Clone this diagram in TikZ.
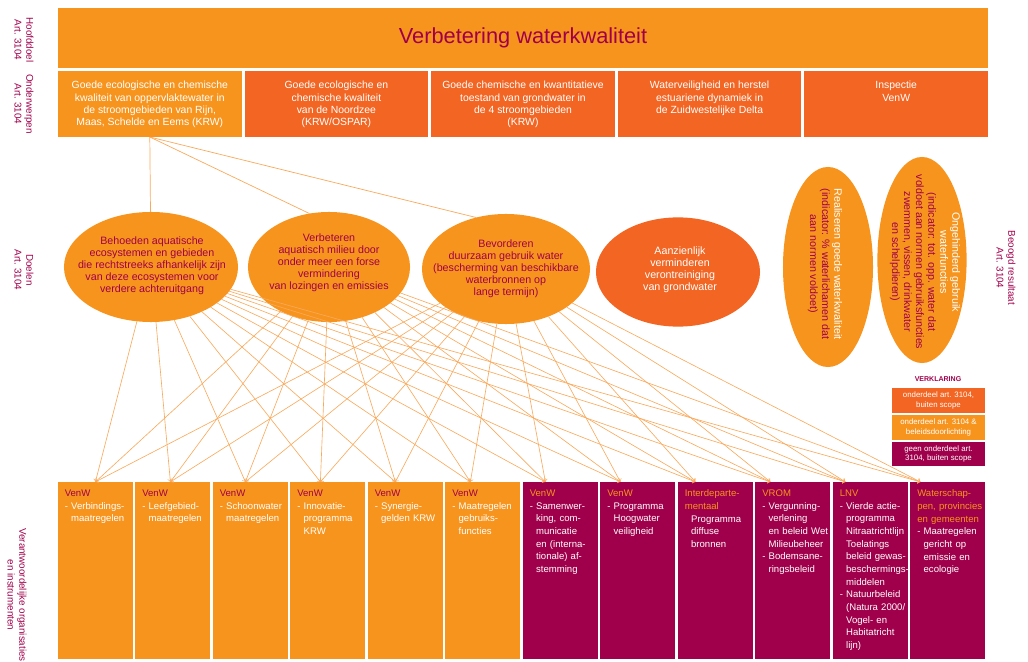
\documentclass[tikz,border=0pt]{standalone}
\usepackage{fontspec}
\setmainfont{Liberation Sans}
\usetikzlibrary{shapes.geometric}
\definecolor{lorange}{HTML}{F7941D}
\definecolor{dorange}{HTML}{F26522}
\definecolor{wine}{HTML}{A0004B}
\definecolor{linkc}{HTML}{F9A95C}
\newcommand{\indt}{\hphantom{-\ }}

\begin{document}
\begin{tikzpicture}[x=0.025cm, y=-0.025cm,
	every node/.style={inner sep=0pt, outer sep=0pt},
	onderwerp/.style={minimum width=4.59cm, minimum height=1.65cm},
	onderwerptekst/.style={anchor=north, text=white, align=center,
		font=\fontsize{7.4}{8.6}\selectfont},
	doel/.style={ellipse, fill=lorange},
	doeltekst/.style={text=wine, align=center,
		font=\fontsize{7.6}{8.6}\selectfont},
	instrument/.style={minimum width=1.87cm, minimum height=4.43cm},
	instrumenttekst/.style={anchor=north west, text=white, text width=1.95cm,
		align=left, font=\fontsize{6.8}{9}\selectfont},
	legenda/.style={minimum width=2.33cm, minimum height=0.62cm, text=white,
		align=center, font=\fontsize{5.6}{7}\selectfont},
	zijlabel/.style={rotate=-90, text=wine, align=center,
		font=\fontsize{7}{8.4}\selectfont},
	lijn/.style={draw=linkc, line width=0.5pt},
	pijl/.style={->, draw=linkc, line width=0.45pt},
]
\useasboundingbox (0,0) rectangle (1028,662);

\node[fill=lorange, minimum width=23.25cm, minimum height=1.5cm, text=wine,
	font=\fontsize{15.5}{18}\selectfont] (hoofddoel) at (523,38)
	{Verbetering waterkwaliteit};

\foreach \i/\kleur/\tekst in {
	1/lorange/{Goede ecologische en chemische\\kwaliteit van oppervlaktewater in\\de stroomgebieden van Rijn,\\Maas, Schelde en Eems (KRW)},
	2/dorange/{Goede ecologische en\\chemische kwaliteit\\van de Noordzee\\(KRW/OSPAR)},
	3/dorange/{Goede chemische en kwantitatieve\\toestand van grondwater in\\de 4 stroomgebieden\\(KRW)},
	4/dorange/{Waterveiligheid en herstel\\estuariene dynamiek in\\de Zuidwestelijke Delta},
	5/dorange/{Inspectie\\VenW}}
{
	\node[onderwerp, fill=\kleur] (t\i) at ({149.8+186.6*(\i-1)},104) {};
	\node[onderwerptekst] (tt\i) at ([yshift=-0.26cm]t\i.north) {\tekst};
}

% doelen
\node[doel, minimum width=4.35cm, minimum height=2.75cm] (e1) at (151,267) {};
\node[doeltekst] (et1) at (152,266) {Behoeden aquatische\\ecosystemen en gebieden\\die rechtstreeks afhankelijk zijn\\van deze ecosystemen voor\\verdere achteruitgang};
\node[doel, minimum width=4.05cm, minimum height=2.75cm] (e2) at (329,267) {};
\node[doeltekst] (et2) at (329,263) {Verbeteren\\aquatisch milieu door\\onder meer een forse\\vermindering\\van lozingen en emissies};
\node[doel, minimum width=4.2cm, minimum height=2.75cm] (e3) at (506,269) {};
\node[doeltekst] (et3) at (506,269) {Bevorderen\\duurzaam gebruik water\\(bescherming van beschikbare\\waterbronnen op\\lange termijn)};
\node[doel, fill=dorange, minimum width=4.1cm, minimum height=2.73cm] (e4) at (678,272) {};
\node[doeltekst, text=white] (et4) at (680,270) {Aanzienlijk\\verminderen\\verontreiniging\\van grondwater};

\node[doel, minimum width=2.25cm, minimum height=5cm] (e5) at (828,267) {};
\node[doeltekst, rotate=-90] (et5) at (825,264) {\textcolor{white}{Realiseren goede waterkwaliteit}\\(indicator: \% waterlichamen dat\\aan normen voldoet)};
\node[doel, minimum width=2.23cm, minimum height=5.15cm] (e6) at (922,260) {};
\node[doeltekst, rotate=-90] (et6) at (925,262) {\textcolor{white}{Ongehinderd gebruik}\\\textcolor{white}{waterfuncties}\\(indicator: tot. opp. water dat\\voldoet aan normen gebruiksfuncties\\zwemmen, vissen, drinkwater\\en schelpdieren)};

\coordinate (hub) at (t1.south);
\draw[lijn] (hub) -- (e1);
\draw[lijn] (hub) -- (e2.110);
\draw[lijn] (hub) -- (e3.120);

% verklaring
\node[text=wine, font=\bfseries\fontsize{5}{6}\selectfont] (verklaring) at (938,379) {VERKLARING};
\node[legenda, fill=dorange] (leg1) at (938.5,400.5) {onderdeel art. 3104,\\buiten scope};
\node[legenda, fill=lorange] (leg2) at (938.5,427.5) {onderdeel art. 3104 \&\\beleidsdoorlichting};
\node[legenda, fill=wine] (leg3) at (938.5,454) {geen onderdeel art.\\3104, buiten scope};

\foreach \i/\kleur/\kopkleur/\kop/\tekst in {
	1/lorange/wine/VenW/{- Verbindings-\\\indt maatregelen},
	2/lorange/wine/VenW/{- Leefgebied-\\\indt maatregelen},
	3/lorange/wine/VenW/{- Schoonwater\\\indt maatregelen},
	4/lorange/wine/VenW/{- Innovatie-\\\indt programma\\\indt KRW},
	5/lorange/wine/VenW/{- Synergie-\\\indt gelden KRW},
	6/lorange/wine/VenW/{- Maatregelen\\\indt gebruiks-\\\indt functies},
	7/wine/lorange/VenW/{- Samenwer-\\\indt king, com-\\\indt municatie\\\indt en (interna-\\\indt tionale) af-\\\indt stemming},
	8/wine/lorange/VenW/{- Programma\\\indt Hoogwater\\\indt veiligheid},
	9/wine/lorange/{Interdeparte-\\mentaal}/{\indt Programma\\\indt diffuse\\\indt bronnen},
	10/wine/lorange/VROM/{- Vergunning-\\\indt verlening\\\indt en beleid Wet\\\indt Milieubeheer\\- Bodemsane-\\\indt ringsbeleid},
	11/wine/lorange/LNV/{- Vierde actie-\\\indt programma\\\indt Nitraatrichtlijn\\\indt Toelatings\\\indt beleid gewas-\\\indt beschermings-\\\indt middelen\\- Natuurbeleid\\\indt (Natura 2000/\\\indt Vogel- en\\\indt Habitatricht\\\indt lijn)},
	12/wine/lorange/{Waterschap-\\pen, provincies\\en gemeenten}/{- Maatregelen\\\indt gericht op\\\indt emissie en\\\indt ecologie}}
{
	\node[instrument, fill=\kleur] (b\i) at ({95.4+77.5*(\i-1)},570.5) {};
	\node[instrumenttekst] (bt\i) at ([xshift=0.17cm,yshift=-0.2cm]b\i.north west)
		{{\color{\kopkleur}\kop}\\\tekst};
}

\foreach \e in {1,2,3}
	\foreach \b in {1,...,12}
		\draw[pijl] (e\e) -- ([xshift={(1-\b)*1.78pt}]b\b.north);

\node[zijlabel] (lab1) at (24,40) {Hoofddoel\\Art. 3104};
\node[zijlabel] (lab2) at (24,104) {Onderwerpen\\Art. 3104};
\node[zijlabel] (lab3) at (24,270) {Doelen\\Art. 3104};
\node[zijlabel] (lab4) at (17,595) {Verantwoordelijke organisaties\\en instrumenten};
\node[zijlabel] (lab5) at (1006,268) {Beoogd resultaat\\Art. 3104};
\end{tikzpicture}
\end{document}
